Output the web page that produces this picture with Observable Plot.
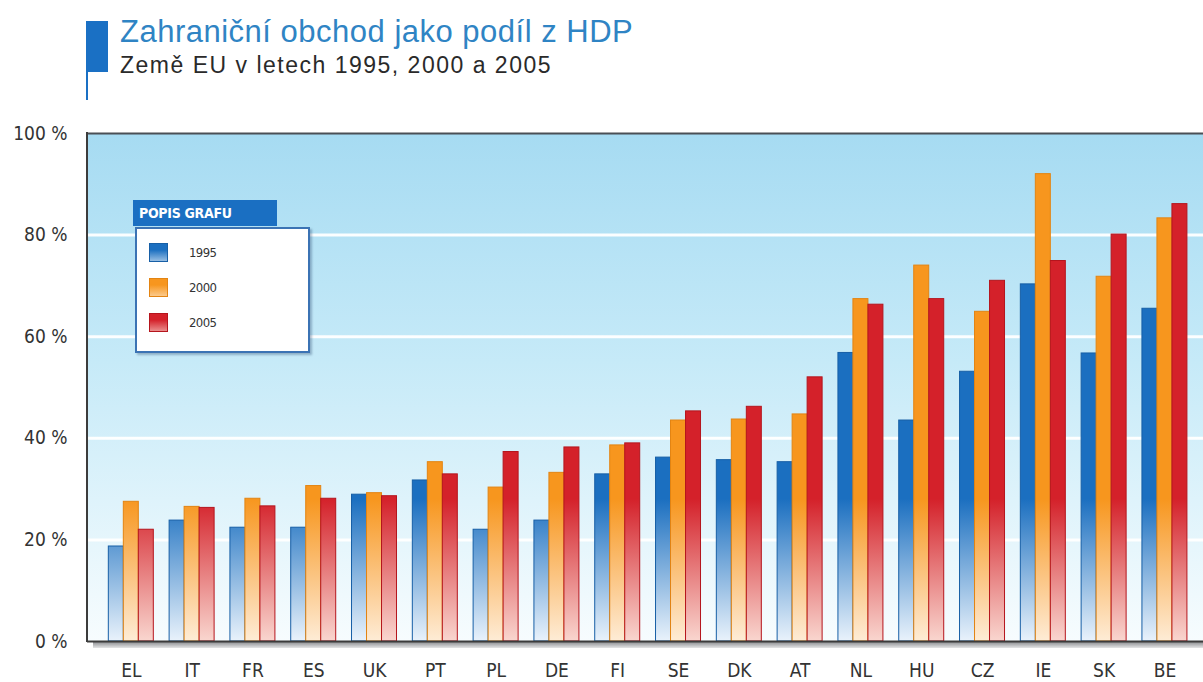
<!DOCTYPE html>
<html>
<head>
<meta charset="utf-8">
<script src="https://cdn.jsdelivr.net/npm/d3@7"></script>
<script src="https://cdn.jsdelivr.net/npm/@observablehq/plot@0.6"></script>
<style>
  html, body { margin: 0; padding: 0; background: #fff; }
  body { width: 1203px; height: 682px; overflow: hidden; position: relative;
         font-family: "Liberation Sans", Arial, sans-serif; }
  #header { position: relative; height: 100px; }
  #flag { position: absolute; left: 86px; top: 21px; width: 22px; height: 51px; background: #1a70c4; }
  #pole { position: absolute; left: 86px; top: 72px; width: 2px; height: 28px; background: #1a70c4; }
  #title { position: absolute; left: 120px; top: 16px; margin: 0; font-size: 31px; line-height: 31px;
           font-weight: normal; color: #2f84c4; letter-spacing: 0.5px; white-space: nowrap; }
  #subtitle { position: absolute; left: 120px; top: 54px; margin: 0; font-size: 23px; line-height: 23px;
              font-weight: normal; color: #2a2a2a; letter-spacing: 1.5px; white-space: nowrap; }
  #chart { position: relative; }
  #legend { position: absolute; left: 133px; top: 200px; font-family: "Liberation Sans Narrow", "DejaVu Sans Condensed", "Liberation Sans", sans-serif; }
  #legend .tab { position: absolute; left: 0; top: 0; width: 144px; height: 26px; background: #1a6fc2;
                 color: #fff; font-weight: bold; font-size: 14px; line-height: 26px; padding-left: 6px; box-sizing: border-box; letter-spacing: -0.3px; }
  #legend .box { position: absolute; left: 2px; top: 27px; width: 175px; height: 126px; background: #fff;
                 border: 2px solid #3b73b4; box-sizing: border-box; box-shadow: 2px 2px 2px rgba(40,70,110,0.35); }
  #legend .row { position: absolute; left: 12px; height: 20px; }
  #legend .sw { position: absolute; left: 0; top: 0; width: 19px; height: 19px; box-sizing: border-box; }
  #legend .lb { position: absolute; left: 40px; top: 2px; font-size: 13px; line-height: 16px; color: #333; letter-spacing: -0.6px; }
</style>
</head>
<body>
<div id="header">
  <div id="flag"></div>
  <div id="pole"></div>
  <h1 id="title">Zahraniční obchod jako podíl z HDP</h1>
  <h2 id="subtitle">Země EU v letech 1995, 2000 a 2005</h2>
</div>
<div id="chart"></div>
<script>
// Foreign trade as a share of GDP (%), EU countries
const countries = ["EL", "IT", "FR", "ES", "UK", "PT", "PL", "DE", "FI", "SE", "DK", "AT", "NL", "HU", "CZ", "IE", "SK", "BE"];
const share1995 = [18.7, 23.8, 22.4, 22.4, 28.9, 31.7, 22.0, 23.8, 32.9, 36.2, 35.7, 35.3, 56.8, 43.5, 53.1, 70.3, 56.7, 65.5];
const share2000 = [27.5, 26.5, 28.1, 30.6, 29.2, 35.3, 30.3, 33.2, 38.6, 43.5, 43.7, 44.7, 67.4, 74.0, 64.9, 92.0, 71.8, 83.3];
const share2005 = [22.0, 26.3, 26.6, 28.1, 28.6, 32.9, 37.3, 38.2, 39.0, 45.3, 46.2, 52.0, 66.3, 67.4, 71.0, 74.9, 80.1, 86.1];
const years = ["1995", "2000", "2005"];
const yTicks = [0, 20, 40, 60, 80, 100];
const gridValues = [20, 40, 60, 80];

// series styling: saturated colour at the top of a bar, pale towards the baseline
const palette = {
  "1995": { full: "#1b6fc0", pale: "#e9f2fb", edge: "#175fa6" },
  "2000": { full: "#f7961e", pale: "#feecd6", edge: "#e38412" },
  "2005": { full: "#d4212a", pale: "#f9d6cf", edge: "#b5151d" }
};

const series = { "1995": share1995, "2000": share2000, "2005": share2005 };
const rows = (year) => countries.map((country, i) => ({ country, year, value: series[year][i] }));

const W = 1203, H = 582;
const groupWidth = 45;
const barWidth = groupWidth / 3;

const barMark = (year, k) => Plot.barY(rows(year), {
  x: "country",
  y: "value",
  fill: `url(#grad${year})`,
  stroke: palette[year].edge,
  strokeWidth: 1,
  insetLeft: k * barWidth,
  insetRight: (2 - k) * barWidth
});

const plot = Plot.plot({
  width: W,
  height: H,
  marginLeft: 87,
  marginRight: 0,
  marginTop: 33,
  marginBottom: 41,
  style: {
    fontFamily: '"Liberation Sans Narrow", "DejaVu Sans Condensed", "Liberation Sans", sans-serif',
    fontSize: "19px",
    color: "#333",
    background: "transparent",
    overflow: "visible"
  },
  x: {
    domain: countries,
    round: false,
    paddingInner: 0.26,
    paddingOuter: 0.3075,
    align: 0.57,
    label: null,
    tickSize: 0,
    tickPadding: 22
  },
  y: {
    domain: [0, 100],
    ticks: yTicks,
    tickFormat: d => `${d} %`,
    label: null,
    tickSize: 0,
    tickPadding: 20
  },
  marks: [
    Plot.ruleY(gridValues, { stroke: "#ffffff", strokeWidth: 3, strokeOpacity: 0.95 }),
    ...years.map((y, k) => barMark(y, k)),
    Plot.ruleY([100], { stroke: "#4a4f55", strokeWidth: 2 }),
    Plot.ruleY([0], { stroke: "#3c3c3c", strokeWidth: 2 })
  ]
});

// decorate: gradients, plot background, left border and the shadow under the baseline
const yScale = plot.scale("y");
const yTop = yScale.apply(100), yBase = yScale.apply(0), yFull = yScale.apply(28);
const left = 87;
const svg = d3.select(plot);
const defs = svg.insert("defs", ":first-child");

const bg = defs.append("linearGradient").attr("id", "plotBg")
  .attr("gradientUnits", "userSpaceOnUse").attr("x1", 0).attr("x2", 0).attr("y1", yTop).attr("y2", yBase);
bg.append("stop").attr("offset", 0).attr("stop-color", "#a6dbf2");
bg.append("stop").attr("offset", 0.45).attr("stop-color", "#c6eaf8");
bg.append("stop").attr("offset", 1).attr("stop-color", "#f7fcfe");

for (const y of years) {
  const g = defs.append("linearGradient").attr("id", `grad${y}`)
    .attr("gradientUnits", "userSpaceOnUse").attr("x1", 0).attr("x2", 0).attr("y1", yFull).attr("y2", yBase);
  g.append("stop").attr("offset", 0).attr("stop-color", palette[y].full);
  g.append("stop").attr("offset", 0.55).attr("stop-color", d3.interpolateRgb(palette[y].full, palette[y].pale)(0.55));
  g.append("stop").attr("offset", 1).attr("stop-color", palette[y].pale);
}

const shadow = defs.append("linearGradient").attr("id", "shadow").attr("x1", 0).attr("x2", 0).attr("y1", 0).attr("y2", 1);
shadow.append("stop").attr("offset", 0).attr("stop-color", "#8d8f92");
shadow.append("stop").attr("offset", 1).attr("stop-color", "#e4e5e6");

const backdrop = svg.insert("g", "defs + *");
backdrop.append("rect").attr("x", left).attr("y", yTop).attr("width", W - left).attr("height", yBase - yTop).attr("fill", "url(#plotBg)");
backdrop.append("rect").attr("x", left + 6).attr("y", yBase + 1).attr("width", W - left - 6).attr("height", 6).attr("fill", "url(#shadow)");
svg.append("line").attr("x1", left).attr("x2", left).attr("y1", yTop - 1).attr("y2", yBase + 1)
  .attr("stroke", "#3c3c3c").attr("stroke-width", 2);

document.getElementById("chart").appendChild(plot);

// legend box
const legend = document.createElement("div");
legend.id = "legend";
legend.innerHTML = `<div class="tab">POPIS GRAFU</div><div class="box"></div>`;
const box = legend.querySelector(".box");
years.forEach((y, i) => {
  const row = document.createElement("div");
  row.className = "row";
  row.style.top = `${14 + i * 35}px`;
  row.innerHTML = `<div class="sw" style="background:linear-gradient(${palette[y].full} 35%, ${d3.interpolateRgb(palette[y].full, palette[y].pale)(0.6)});border:1px solid ${palette[y].edge}"></div><div class="lb">${y}</div>`;
  box.appendChild(row);
});
document.body.appendChild(legend);
</script>
</body>
</html>
